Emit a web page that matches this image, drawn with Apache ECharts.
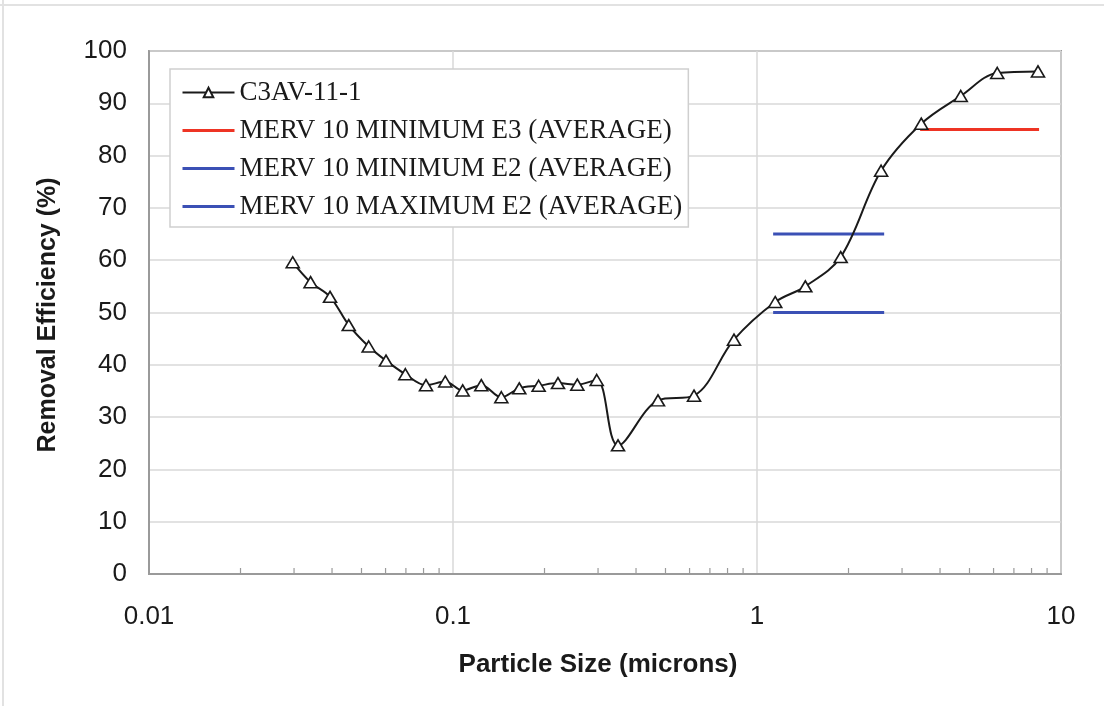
<!DOCTYPE html>
<html>
<head>
<meta charset="utf-8">
<script src="https://cdn.jsdelivr.net/npm/echarts@6/dist/echarts.min.js"></script>
<style>
  html, body { margin: 0; padding: 0; background: #fff; }
  #chart { width: 1104px; height: 706px; }
</style>
</head>
<body>
<div id="chart"></div>
<script>
// ---- data ----
const particleSize = [0.0297, 0.0340, 0.0394, 0.0454, 0.0528, 0.0602, 0.0697, 0.0815, 0.0943, 0.1076,
  0.1239, 0.1442, 0.1652, 0.1913, 0.2215, 0.2564, 0.2970, 0.349, 0.4724, 0.6206,
  0.840, 1.148, 1.442, 1.885, 2.56, 3.47, 4.68, 6.17, 8.40];
const efficiency = [59.6, 55.8, 53.0, 47.6, 43.5, 40.8, 38.2, 36.1, 36.8, 35.1,
  36.1, 33.8, 35.5, 36.0, 36.5, 36.2, 37.1, 24.6, 33.2, 34.1,
  44.8, 52.0, 55.0, 60.6, 77.1, 86.1, 91.4, 95.8, 96.1];
const seriesNames = ['C3AV-11-1', 'MERV 10 MINIMUM E3 (AVERAGE)', 'MERV 10 MINIMUM E2 (AVERAGE)', 'MERV 10 MAXIMUM E2 (AVERAGE)'];
const e3MinX = [3.44, 8.47];
const e3MinY = [85, 85];
const e2MinX = [1.13, 2.62];
const e2MinY = [50, 50];
const e2MaxX = [1.13, 2.62];
const e2MaxY = [65, 65];
const xTickLabels = ['0.01', '0.1', '1', '10'];
const xMinorTicks = [0.02, 0.03, 0.04, 0.05, 0.06, 0.07, 0.08, 0.09,
  0.2, 0.3, 0.4, 0.5, 0.6, 0.7, 0.8, 0.9, 2, 3, 4, 5, 6, 7, 8, 9];
const xTitle = 'Particle Size (microns)';
const yTitle = 'Removal Efficiency (%)';

const zip = (xs, ys) => xs.map((x, i) => [x, ys[i]]);

const chart = echarts.init(document.getElementById('chart'), null, { renderer: 'canvas' });
const sans = 'Liberation Sans, Arial, sans-serif';
const serif = 'Liberation Serif, Times New Roman, serif';

const option = {
  backgroundColor: '#ffffff',
  animation: false,
  grid: {
    left: 149, top: 51, right: 43, bottom: 132,
    show: true, borderColor: '#9a9a9a', borderWidth: 2, backgroundColor: 'transparent'
  },
  xAxis: {
    type: 'log', logBase: 10, min: 0.01, max: 10,
    axisLine: { show: true, lineStyle: { color: '#9a9a9a', width: 2 } },
    axisTick: { show: false },
    splitLine: { show: true, lineStyle: { color: '#d9d9d9', width: 1.5 } },
    axisLabel: {
      fontFamily: sans, fontSize: 26, color: '#1a1a1a', margin: 30,
      formatter: function (v) {
        const idx = Math.round(Math.log10(v)) + 2;
        return xTickLabels[idx] !== undefined ? xTickLabels[idx] : '';
      }
    }
  },
  yAxis: {
    type: 'value', min: 0, max: 100, interval: 10,
    axisLine: { show: true, lineStyle: { color: '#9a9a9a', width: 2 } },
    axisTick: { show: false },
    splitLine: { show: true, lineStyle: { color: '#d9d9d9', width: 1.5 } },
    axisLabel: { fontFamily: sans, fontSize: 26, color: '#1a1a1a', margin: 22 }
  },
  legend: {
    show: true,
    left: 170, top: 69,
    orient: 'vertical',
    data: [
      { name: seriesNames[0], lineStyle: { width: 2 } },
      { name: seriesNames[1], itemStyle: { opacity: 0 }, lineStyle: { width: 3 } },
      { name: seriesNames[2], itemStyle: { opacity: 0 }, lineStyle: { width: 3 } },
      { name: seriesNames[3], itemStyle: { opacity: 0 }, lineStyle: { width: 3 } }
    ],
    backgroundColor: '#ffffff',
    borderColor: '#cfcfcf', borderWidth: 1.5,
    padding: [10, 6, 7, 11],
    itemGap: 11,
    itemWidth: 52, itemHeight: 12,
    textStyle: { fontFamily: serif, fontSize: 27, color: '#1a1a1a' }
  },
  graphic: [
    { type: 'line', shape: { x1: 3, y1: 0, x2: 3, y2: 706 }, style: { stroke: '#e2e2e2', lineWidth: 2 } },
    { type: 'line', shape: { x1: 0, y1: 5, x2: 1104, y2: 5 }, style: { stroke: '#e2e2e2', lineWidth: 2 } },
    {
      type: 'text', x: 598, y: 665,
      style: { text: xTitle, font: 'bold 26px ' + sans, fill: '#1a1a1a', textAlign: 'center', textVerticalAlign: 'middle' }
    },
    {
      type: 'text', x: 48, y: 315, rotation: Math.PI / 2,
      style: { text: yTitle, font: 'bold 25px ' + sans, fill: '#1a1a1a', textAlign: 'center', textVerticalAlign: 'middle' }
    }
  ],
  series: [
    {
      name: 'minor ticks', type: 'custom', silent: true, z: 1,
      data: xMinorTicks.map(v => [v, 0]),
      renderItem: function (params, api) {
        const p = api.coord([api.value(0), 0]);
        return { type: 'line', shape: { x1: p[0], y1: p[1], x2: p[0], y2: p[1] - 6 }, style: { stroke: '#9a9a9a', lineWidth: 1.2 } };
      }
    },
    {
      name: seriesNames[1], type: 'line', data: zip(e3MinX, e3MinY), symbol: 'none',
      lineStyle: { color: '#ee3424', width: 3 }, itemStyle: { color: '#ee3424' }, z: 3
    },
    {
      name: seriesNames[2], type: 'line', data: zip(e2MinX, e2MinY), symbol: 'none',
      lineStyle: { color: '#3b50b5', width: 3 }, itemStyle: { color: '#3b50b5' }, z: 3
    },
    {
      name: seriesNames[3], type: 'line', data: zip(e2MaxX, e2MaxY), symbol: 'none',
      lineStyle: { color: '#3b50b5', width: 3 }, itemStyle: { color: '#3b50b5' }, z: 3
    },
    {
      name: seriesNames[0], type: 'line', data: zip(particleSize, efficiency),
      smooth: 0.35,
      symbol: 'triangle', symbolSize: [13, 11],
      lineStyle: { color: '#1a1a1a', width: 2 },
      itemStyle: { color: '#ffffff', borderColor: '#1a1a1a', borderWidth: 1.6 },
      z: 4
    }
  ]
};
chart.setOption(option);
</script>
</body>
</html>
